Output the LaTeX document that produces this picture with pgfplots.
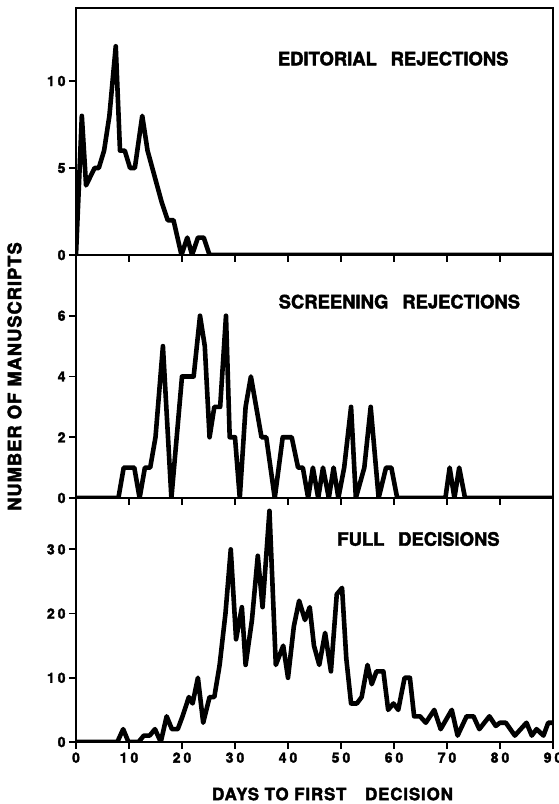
\documentclass[border=0pt]{standalone}
\usepackage{fontspec}
\setmainfont{TeX Gyre Heros}[BoldFeatures={FakeBold=2.2}]
\newfontfamily\lblfont{TeX Gyre Heros}[BoldFeatures={FakeBold=2.2, LetterSpace=5}]
\usepackage{pgfplots}
\pgfplotsset{compat=1.18}
\newcommand{\dsp}{\kern3bp}
\tikzset{ttl/.style={font=\fontsize{18.5}{18.5}\selectfont\bfseries, anchor=center}}
\pgfplotsset{
  panel/.style={
    scale only axis, width=477bp, xmin=0, xmax=90, ymin=0,
    axis line style={line width=2.2bp},
    xtick={0,10,...,90},
    xtick pos=lower, ytick pos=left,
    tick align=outside,
    major tick length=7bp,
    minor tick num=0,
    tick style={line width=1.8bp, black},
    every tick label/.append style={font=\fontsize{14}{14}\selectfont\bfseries},
    /pgf/number format/assume math mode=true,
    xticklabels={},
  },
  curve/.style={black, line width=4.6bp, line join=round, line cap=round, mark=none},
}
\begin{document}
\begin{tikzpicture}
% bottom panel: full decisions
\begin{axis}[panel, name=p3, at={(0,0)}, anchor=south west, height=244bp, ymax=38,
  ytick={0,10,20,30}, yticklabels={0,1\dsp0,2\dsp0,3\dsp0},
  xticklabels={0,1\dsp0,2\dsp0,3\dsp0,4\dsp0,5\dsp0,6\dsp0,7\dsp0,8\dsp0,9\dsp0},
  xticklabel style={yshift=0bp}]
\addplot[curve] coordinates {
(0,0)(7.8,0)(8.9,2)(9.9,0)(11.8,0)(12.8,1)(13.9,1)(14.9,2)(16,0)(17.1,4)(18.1,2)(19.2,2)
(20.1,4)(21.3,7)(22,6)(23,10)(24,3)(25.2,7)(26.1,7)(27.1,12)(28.2,20)(29.2,30)(30.2,16)
(31.3,21)(32,12)(33.2,19)(34.3,29)(35.2,21)(36.5,36)(37.7,12)(39.1,15)(40,10)(41.1,18)
(42.1,22)(43.2,19)(44.1,21)(44.9,15)(45.9,12)(47,17)(48.1,11)(49.2,23)(50.2,24)(51,13)
(51.9,6)(53,6)(53.9,7)(55,12)(55.8,9)(56.7,11)(58,11)(58.9,5)(59.9,6)(60.8,5)(62,10)
(63,10)(63.8,4)(64.9,4)(66,3)(67.6,5)(68.8,2)(70.9,5)(72,1)(73.7,4)(75,4)(76.1,2)(78,4)
(79.2,2.5)(80,3)(81.1,3)(82.8,1)(85,3)(86,1)(86.9,2)(88.2,1)(89.1,3)(90,3)};
\node[ttl] at (rel axis cs:0.718,0.832) {FULL\hspace{0.75em}DECISIONS};
\end{axis}
% middle panel: screening rejections
\begin{axis}[panel, name=p2, at={(0,244bp)}, anchor=south west, height=243bp, ymax=8,
  ytick={0,2,4,6}]
\addplot[curve] coordinates {
(0,0)(8,0)(9,1)(11,1)(12,0)(13,1)(14,1)(15,2)(16.4,5)(18,0)(20,4)(22.2,4)(23.4,6)(24.3,5)
(25.2,2)(26.1,3)(27.2,3)(28.3,6)(29,2)(30,2)(30.9,0)(32,3)(33,4)(34,3)(35,2)(35.9,2)
(37.5,0)(39,2)(40.7,2)(41.9,1)(42.8,1)(43.8,0)(44.7,1)(45.7,0)(46.6,1)(47.7,0)(48.6,1)
(49.5,0)(50.6,1)(51.9,3)(52.8,0)(54.4,1)(55.6,3)(57.1,0)(58.5,1)(59.5,1)(60.6,0)(69.7,0)
(70.5,1)(71.4,0)(72.3,1)(73.4,0)(90,0)};
\node[ttl] at (rel axis cs:0.678,0.808) {SCREENING\hspace{0.75em}REJECTIONS};
\end{axis}
% top panel: editorial rejections
\begin{axis}[panel, name=p1, at={(0,487bp)}, anchor=south west, height=247bp, ymax=14.2,
  ytick={0,5,10}, yticklabels={0,5,1\dsp0}]
\addplot[curve] coordinates {
(0,0)(1.1,8)(1.9,4)(3.5,5)(4.3,5)(5.3,6)(6.3,8)(7.5,12)(8.3,6)(9.2,6)(10.2,5)(11.1,5)
(12.5,8)(13.5,6)(14.4,5)(15.3,4)(16.2,3)(17.3,2)(18.4,2)(19.9,0)(21,1)(21.9,0)(23,1)
(24.1,1)(25.2,0)(90,0)};
\node[ttl] at (rel axis cs:0.665,0.795) {EDITORIAL\hspace{0.75em}REJECTIONS};
\end{axis}
\node[rotate=90, font=\lblfont\fontsize{18.5}{18.5}\selectfont\bfseries] at ([xshift=-61.5bp]p2.west) {NUMBER OF MANUSCRIPTS};
\node[font=\lblfont\fontsize{17}{17}\selectfont\bfseries] at ([xshift=18bp,yshift=-52bp]p3.south) {DAYS TO FIRST\hspace{1.1em}DECISION};
\pgfresetboundingbox
\path[use as bounding box] ([xshift=-76bp,yshift=-62bp]p3.south west) rectangle ([xshift=6bp,yshift=8bp]p1.north east);
\end{tikzpicture}
\end{document}
